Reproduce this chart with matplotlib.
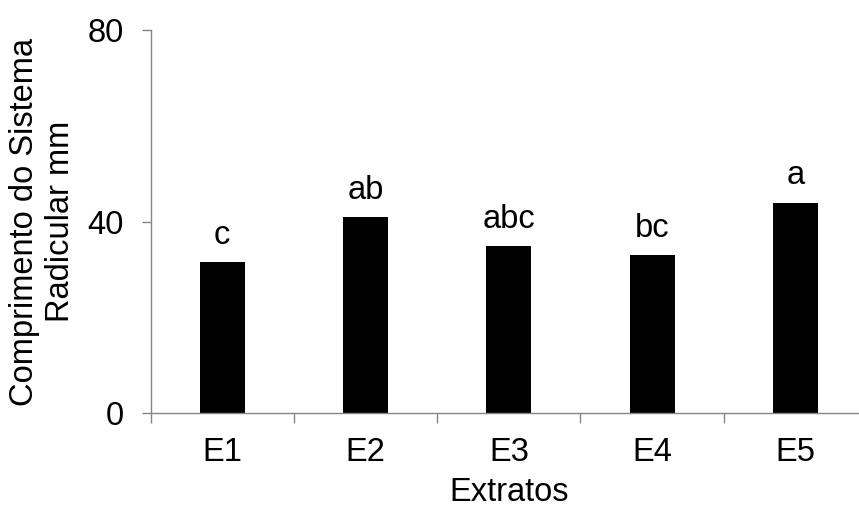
import numpy as np
import matplotlib
matplotlib.use("Agg")
import matplotlib.pyplot as plt

# Root system length per extract, with mean-separation letters
extratos = ["E1", "E2", "E3", "E4", "E5"]
comprimento = [31.5, 41.0, 34.9, 33.0, 44.0]
letras = ["c", "ab", "abc", "bc", "a"]
yticks = [0, 40, 80]

plt.rcParams["font.family"] = ["Liberation Sans", "DejaVu Sans"]
plt.rcParams["font.size"] = 23.5

fig = plt.figure(figsize=(8.59, 5.09), dpi=100)
ax = fig.add_axes([0.1754, 0.1886, 0.8339, 0.7519])

x = np.arange(len(extratos))
bars = ax.bar(x, comprimento, width=0.315, color="black", zorder=2)

for xi, val, lab in zip(x, comprimento, letras):
    ax.annotate(lab, (xi, val), xytext=(0, 13.2), textcoords="offset points",
                ha="center", va="baseline")

ax.set_xlim(-0.5, len(extratos) - 0.5)
ax.set_ylim(0, 80)
ax.set_yticks(yticks)

# tick marks sit between the categories, labels at the bar centres
ax.set_xticks(np.arange(len(extratos) + 1) - 0.5)
ax.set_xticklabels([])
ax.set_xticks(x, minor=True)
ax.set_xticklabels(extratos, minor=True)
ax.tick_params(axis="x", which="major", length=7.2, width=1, color="#868686", direction="out")
ax.tick_params(axis="x", which="minor", length=0, pad=17)
ax.tick_params(axis="y", length=6.5, width=1, color="#868686", direction="out", pad=13)

for side in ["top", "right"]:
    ax.spines[side].set_visible(False)
for side in ["left", "bottom"]:
    ax.spines[side].set_color("#868686")
    ax.spines[side].set_linewidth(1)

ax.set_xlabel("Extratos", labelpad=7)
ax.set_ylabel("Comprimento do Sistema\nRadicular mm", labelpad=8, linespacing=1.2)

fig.savefig("out.png", dpi=100)
